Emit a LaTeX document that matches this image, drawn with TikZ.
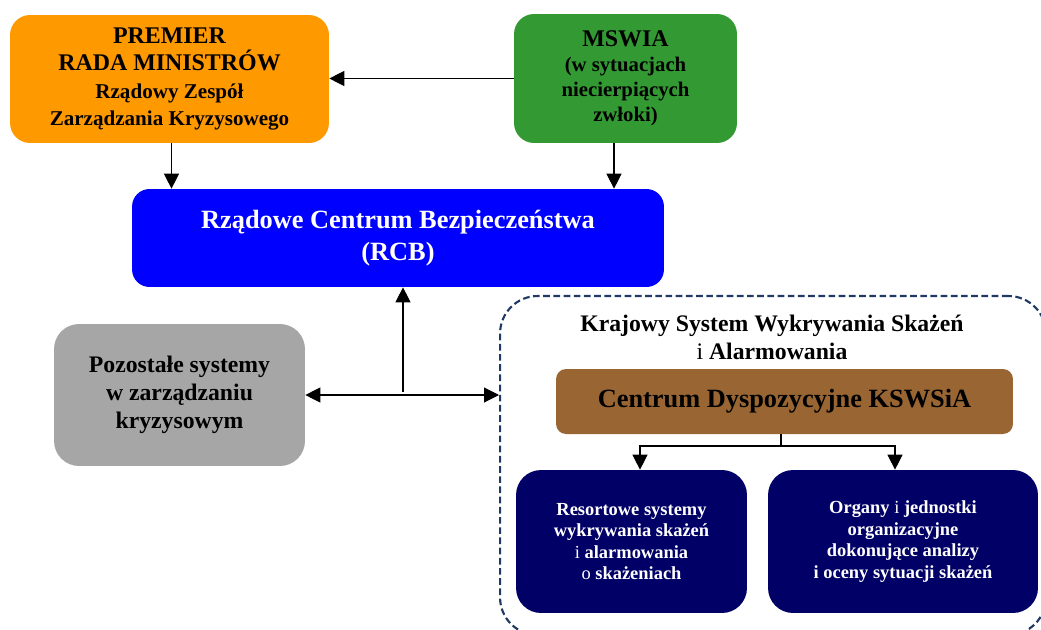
\documentclass[tikz,border=0pt]{standalone}
\usepackage{fontspec}
\setmainfont{Liberation Serif}
\usetikzlibrary{arrows.meta}
\usetikzlibrary{positioning}

\definecolor{premier}{HTML}{FF9900}
\definecolor{mswia}{HTML}{339933}
\definecolor{rcb}{HTML}{0000FF}
\definecolor{inne}{HTML}{A6A6A6}
\definecolor{centrum}{HTML}{996633}
\definecolor{organ}{HTML}{000066}
\definecolor{ramka}{HTML}{1F3864}

\begin{document}
\begin{tikzpicture}[x=0.02cm,y=-0.02cm]
  \tikzset{box/.style = {shape=rectangle,rounded corners=0.4cm,align=center,inner sep=1pt}}
  \tikzset{edge/.style = {-{Triangle[length=0.3cm,width=0.3cm]},line width=0.6pt}}

  \useasboundingbox (0,0) rectangle (1041,629);
  \clip (0,0) rectangle (1041,629);

  % ramka KSWSiA
  \node[draw=ramka,dash pattern=on 3.8pt off 2pt,line width=1.2pt,rounded corners=0.75cm,
        minimum width=10.92cm,minimum height=6.78cm] (K) at (773,465.5) {};
  \node[align=center,font=\bfseries\fontsize{13.5}{15.9}\selectfont] (Kt) at (772,337)
    {Krajowy System Wykrywania Skażeń\\ \textmd{i} Alarmowania};

	\node[box,fill=premier,minimum width=6.38cm,minimum height=2.56cm,
        font=\bfseries\fontsize{13.6}{15.9}\selectfont] (P) at (169.5,79)
    {PREMIER\\ RADA MINISTRÓW\\
     {\fontsize{12}{14.2}\selectfont Rządowy Zespół}\\[-0.5pt]
     {\fontsize{12}{14.2}\selectfont Zarządzania Kryzysowego}};
	\node[box,fill=mswia,minimum width=4.46cm,minimum height=2.58cm,
        font=\bfseries\fontsize{11.8}{14.2}\selectfont] (M) at (625.5,78.5)
    {{\fontsize{13.6}{15.9}\selectfont MSWIA}\\ (w sytuacjach\\ niecierpiących\\ zwłoki)};
	\node[box,fill=rcb,text=white,rounded corners=0.35cm,minimum width=10.64cm,minimum height=1.96cm,
        font=\bfseries\fontsize{15}{18.1}\selectfont] (R) at (398,238)
    {Rządowe Centrum Bezpieczeństwa\\ (RCB)};
	\node[box,fill=inne,rounded corners=0.5cm,minimum width=5.02cm,minimum height=2.84cm,
        font=\bfseries\fontsize{13.5}{15.9}\selectfont] (G) at (179.5,395)
    {Pozostałe systemy\\ w zarządzaniu\\ kryzysowym};

	\node[box,fill=centrum,rounded corners=0.2cm,minimum width=9.14cm,minimum height=1.3cm,
        font=\bfseries\fontsize{15}{17}\selectfont] (C) at (784.5,401.5)
    {Centrum Dyspozycyjne KSWSiA};
	\node[box,fill=organ,text=white,rounded corners=0.5cm,minimum width=4.62cm,minimum height=2.86cm,
        font=\bfseries\fontsize{10.5}{12.2}\selectfont] (L) at (631.5,541.5)
    {Resortowe systemy\\ wykrywania skażeń\\ \textmd{i} alarmowania\\ \textmd{o} skażeniach};
	\node[box,fill=organ,text=white,rounded corners=0.5cm,minimum width=5.4cm,minimum height=2.86cm,
        font=\bfseries\fontsize{10.5}{12.2}\selectfont] (O) at (903,541.5)
    {Organy \textmd{i} jednostki\\ organizacyjne\\ dokonujące analizy\\ i oceny sytuacji skażeń};

  % polaczenia
  \draw[edge] (M.west) -- (M.west -| P.east);
  \draw[edge] ([xshift=0.04cm]P.south) -- ([xshift=0.04cm]P.south |- R.north);
  \draw[edge] ([xshift=-0.23cm]M.south) -- ([xshift=-0.23cm]M.south |- R.north);

  \coordinate (wezel) at (403,392);
  \draw[edge] (wezel) -- (wezel |- R.south);
  \draw[edge,{Triangle[length=0.3cm,width=0.3cm]}-{Triangle[length=0.3cm,width=0.3cm]}]
    (G.east) -- (G.east -| K.west);

  \coordinate (rozg) at (781,446);
  \draw[line width=0.6pt] (C.south -| rozg) -- (rozg);
  \draw[edge] (rozg) -| ([xshift=0.17cm]L.north);
  \draw[edge] (rozg) -| ([xshift=-0.16cm]O.north);
\end{tikzpicture}
\end{document}
